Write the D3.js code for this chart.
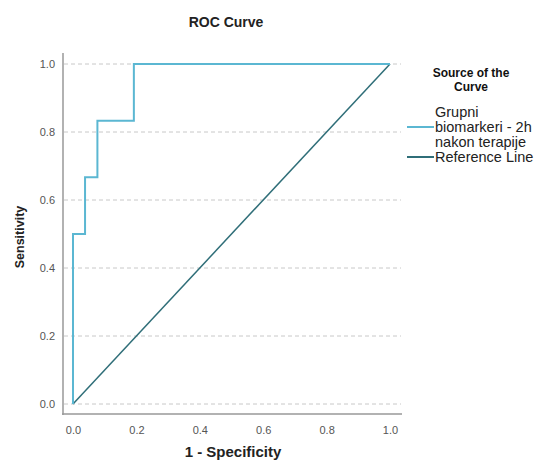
<!DOCTYPE html>
<html>
<head>
<meta charset="utf-8">
<script src="https://cdn.jsdelivr.net/npm/d3@7"></script>
<style>
  body { margin: 0; background: #fff; }
  text { font-family: "Liberation Sans", Arial, sans-serif; }
</style>
</head>
<body>
<svg id="chart" width="539" height="470"></svg>
<script>
// ROC curve points (1 - specificity, sensitivity)
const rocFpr = [0, 0, 0.038, 0.038, 0.077, 0.077, 0.192, 0.192, 1];
const rocTpr = [0, 0.5, 0.5, 0.667, 0.667, 0.833, 0.833, 1, 1];
const refFpr = [0, 1];
const refTpr = [0, 1];
const ticks = [0, 0.2, 0.4, 0.6, 0.8, 1.0];
const legendItems = [
  { lines: ["Grupni", "biomarkeri - 2h", "nakon terapije"], color: "#5bb7d2" },
  { lines: ["Reference Line"], color: "#2f6e78" }
];

const svg = d3.select("#chart");

const x = d3.scaleLinear().domain([0, 1]).range([73, 390]);
const y = d3.scaleLinear().domain([0, 1]).range([404, 64]);

// title
svg.append("text")
  .attr("x", 226).attr("y", 27)
  .attr("text-anchor", "middle")
  .attr("font-size", 14).attr("font-weight", "bold")
  .attr("fill", "#222")
  .text("ROC Curve");

// gridlines
svg.append("g")
  .selectAll("line")
  .data(ticks)
  .join("line")
  .attr("x1", 64).attr("x2", 401)
  .attr("y1", d => y(d)).attr("y2", d => y(d))
  .attr("stroke", "#c8c8c8")
  .attr("stroke-dasharray", "4,3");

// axes
const xAxis = svg.append("g")
  .attr("transform", "translate(0,414)")
  .call(d3.axisBottom(x).tickValues(ticks).tickFormat(d3.format(".1f")).tickSize(0).tickPadding(12));
const yAxis = svg.append("g")
  .attr("transform", "translate(63,0)")
  .call(d3.axisLeft(y).tickValues(ticks).tickFormat(d3.format(".1f")).tickSize(0).tickPadding(8));

xAxis.select(".domain").remove();
yAxis.select(".domain").remove();
[xAxis, yAxis].forEach(a => a.selectAll("text")
  .attr("font-size", 11).attr("fill", "#555")
  .style("font-family", "'Liberation Sans', Arial, sans-serif"));

svg.append("line")
  .attr("x1", 63).attr("x2", 63).attr("y1", 53).attr("y2", 415)
  .attr("stroke", "#999").attr("stroke-width", 1.5);
svg.append("line")
  .attr("x1", 62).attr("x2", 402).attr("y1", 414).attr("y2", 414)
  .attr("stroke", "#999").attr("stroke-width", 1.5);

// axis labels
svg.append("text")
  .attr("x", 233).attr("y", 457)
  .attr("text-anchor", "middle")
  .attr("font-size", 15).attr("font-weight", "bold").attr("fill", "#222")
  .text("1 - Specificity");
svg.append("text")
  .attr("transform", "translate(24,237) rotate(-90)")
  .attr("text-anchor", "middle")
  .attr("font-size", 12.5).attr("font-weight", "bold").attr("fill", "#222")
  .text("Sensitivity");

// lines
const line = d3.line().x(d => x(d[0])).y(d => y(d[1]));
svg.append("path")
  .attr("d", line(d3.zip(refFpr, refTpr)))
  .attr("fill", "none").attr("stroke", legendItems[1].color).attr("stroke-width", 1.5);
svg.append("path")
  .attr("d", line(d3.zip(rocFpr, rocTpr)))
  .attr("fill", "none").attr("stroke", legendItems[0].color).attr("stroke-width", 2);

// legend
const lg = svg.append("g");
lg.append("text")
  .attr("x", 471).attr("y", 77)
  .attr("text-anchor", "middle")
  .attr("font-size", 12).attr("font-weight", "bold").attr("fill", "#111")
  .text("Source of the");
lg.append("text")
  .attr("x", 471).attr("y", 91)
  .attr("text-anchor", "middle")
  .attr("font-size", 12).attr("font-weight", "bold").attr("fill", "#111")
  .text("Curve");

let ly = 112;
legendItems.forEach(item => {
  const n = item.lines.length;
  const lineY = ly + (n > 1 ? 15 : 0);
  lg.append("line")
    .attr("x1", 407).attr("x2", 434)
    .attr("y1", lineY).attr("y2", lineY)
    .attr("stroke", item.color).attr("stroke-width", 2);
  item.lines.forEach((t, i) => {
    lg.append("text")
      .attr("x", 435).attr("y", ly + i * 15 + 5)
      .attr("font-size", 14.5).attr("fill", "#222")
      .text(t);
  });
  ly += n * 15;
});
</script>
</body>
</html>
